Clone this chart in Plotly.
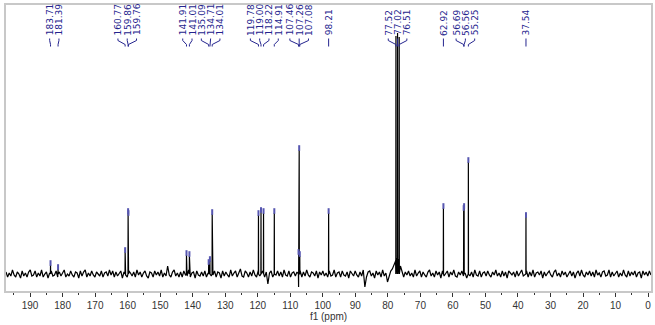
import numpy as np
import plotly.graph_objects as go

# ---- data ----
peak_ppm = [183.71, 181.39, 160.77, 159.86, 159.76, 141.91, 141.01, 135.09, 134.71,
            134.01, 119.78, 119.00, 118.22, 114.91, 107.46, 107.26, 107.08, 98.21,
            77.52, 77.02, 76.51, 62.92, 56.69, 56.56, 55.25, 37.54]
peak_height = [9, 5, 22, 61, 59, 19, 18, 10, 13,
               60, 59, 62, 61, 61, 20, 124, 18, 61,
               238, 241, 237, 66, 64, 66, 112, 57]
solvent_ppm = [77.52, 77.02, 76.51]

# baseline (noise) samples, evenly spaced from 197.4 to -0.9 ppm
noise = [
    2, -3, 1, -2, 4, -1, -3, 2, 0, -4, 3, -2, 1, -3, 2, 4, -2, -1, 3, -3,
    1, -2, 4, -3, 0, 2, -4, 1, 3, -2, -1, 3, -3, 2, -2, 1, 4, -3, 0, -2,
    3, -1, -3, 2, 1, -4, 3, -2, 2, 4, -3, 1, -2, 3, -1, -3, 2, 0, -2, 3,
    -3, 1, 2, -2, 4, -1, 3, -3, 2, -2, 1, 3, -4, 2, -1, -3, 3, 1, -2, 2,
    -3, 4, -1, 2, -3, 1, 3, -2, -4, 2, 1, -3, 3, -1, 2, -2, 4, -3, 1, -2,
    8, -1, -3, 2, 4, -2, 1, -3, 2, -3, 3, -1, -2, 4, -3, 1, 2, -4, 3, -1,
    -2, 2, -2, 3, -3, 1, 4, -2, -1, 3, -3, 2, 1, -4, 3, -2, 2, -1, -3, 4,
    -2, 1, 3, -3, 2, 5, -2, -3, 3, 1, -3, 2, -2, 4, -1, -3, 3, -2, 1, 3,
    -3, 2, -10, 1, 3, -3, 1, -1, 3, -2, 2, -3, 4, -1, -2, 3, -3, 1, 2, -2,
    2, -13, 3, -3, 2, -2, 4, -1, -3, 2, 1, -2, 3, -4, 2, -1, 3, -2, 1, -3,
    3, -2, -1, 4, -3, 1, 2, -3, 3, -1, -2, 2, -4, 3, 1, -2, 3, -1, -3, 2,
    -2, 4, -13, -3, 2, 3, -2, 1, -4, 3, -1, 2, -3, 4, -2, 1, -8, -2, 3, 5,
    9, 13, 16, 15, 8, 1, -3, 2, -1, 3, -2, 1, -3, 4, -2, 1, 3, -3, 2, -1,
    -3, 2, 4, -2, 1, -3, 3, -1, 2, -4, 3, -2, 1, 3, -3, 2, -1, 4, -2, -3,
    2, -1, 3, -2, 1, -4, 3, -2, 2, -3, 4, -1, -2, 3, -3, 1, 2, -2, 3, -1,
    -3, 2, -1, 4, -2, 1, -3, 3, -2, 2, -4, 3, 1, -1, 2, -3, 3, -2, 1, 4,
    -2, -1, 3, -3, 2, -2, 4, -3, 1, 2, -1, 3, -4, 2, -2, 1, 3, -1, -3, 2,
    4, -2, 1, -3, 3, -1, 2, -3, 1, 3, -2, 2, -4, 1, 3, -2, 4, -1, -3, 2,
    -1, 3, -2, 2, -3, 4, -1, 1, -3, 2, 3, -2, -1, 4, -3, 2, -2, 1, 3, -3,
    1, -2, 4, -1, -3, 3, -2, 2, -1, 3, -3, 1, 2, -4, 3, -1, 2, -2, 3, -1,
]

x_ticks = list(range(0, 200, 10))

# ---- layout constants ----
W, H = 655, 325
ML, MR, MT, MB = 6, 4, 5, 34
X_LEFT, X_RIGHT = 197.4, -0.9
Y_LO, Y_HI = -17, 269
LABEL_BOTTOM_PX = 37.5
CONN = (38.5, 40.5, 44.5, 46.5)
LABEL_COLOR = "#24248e"

px_per_ppm = (W - ML - MR) / (X_LEFT - X_RIGHT)
gap = 9.3 / px_per_ppm

# ---- spectrum trace: baseline samples + peak sticks ----
noise_x = np.linspace(X_LEFT, X_RIGHT, len(noise))
pts = [(float(x), float(y)) for x, y in zip(noise_x, noise)]
for p, h in zip(peak_ppm, peak_height):
    pts += [(p + 0.04, 0.0), (p, float(h)), (p - 0.04, 0.0)]
pts.sort(key=lambda t: -t[0])
spec_x = [t[0] for t in pts]
spec_y = [t[1] for t in pts]

# ---- label placement (spread overlapping labels) ----
order = sorted(range(len(peak_ppm)), key=lambda i: -peak_ppm[i])
groups = [[i] for i in order]


def positions(g):
    c = sum(peak_ppm[i] for i in g) / len(g)
    m = len(g)
    return [c + gap * ((m - 1) / 2 - k) for k in range(m)]


changed = True
while changed:
    changed = False
    for k in range(len(groups) - 1):
        a, b = positions(groups[k]), positions(groups[k + 1])
        if a[-1] - b[0] < gap:
            groups[k] = groups[k] + groups[k + 1]
            del groups[k + 1]
            changed = True
            break

label_pos = {}
for g in groups:
    for i, pos in zip(g, positions(g)):
        label_pos[i] = pos

fig = go.Figure()
fig.add_trace(go.Scatter(x=spec_x, y=spec_y, mode="lines",
                         line=dict(color="black", width=1.2), hoverinfo="skip"))

mk_x = [p for p in peak_ppm if p not in solvent_ppm]
mk_y = [h + 2 for p, h in zip(peak_ppm, peak_height) if p not in solvent_ppm]
fig.add_trace(go.Scatter(x=mk_x, y=mk_y, mode="markers",
                         marker=dict(symbol="line-ns", size=4,
                                     line=dict(color="#5656b0", width=2)),
                         hoverinfo="skip"))

cx, cy = [], []
for i, p in enumerate(peak_ppm):
    lx = label_pos[i]
    cx += [lx, lx, p, p, None]
    cy += [CONN[0], CONN[1], CONN[2], CONN[3], None]
fig.add_trace(go.Scatter(x=cx, y=cy, mode="lines", yaxis="y2",
                         line=dict(color=LABEL_COLOR, width=1), hoverinfo="skip"))

for i, p in enumerate(peak_ppm):
    fig.add_annotation(x=label_pos[i], y=LABEL_BOTTOM_PX, xref="x", yref="y2",
                       text=f"{p:.2f}", textangle=-90, showarrow=False,
                       xanchor="center", yanchor="bottom",
                       font=dict(family="DejaVu Sans", size=9, color=LABEL_COLOR))

fig.update_layout(
    width=W, height=H,
    margin=dict(l=ML, r=MR, t=MT, b=MB, autoexpand=False),
    paper_bgcolor="white", plot_bgcolor="white",
    showlegend=False,
    xaxis=dict(range=[X_LEFT, X_RIGHT], tickvals=x_ticks, ticks="outside",
               ticklen=4, tickwidth=1, tickcolor="#333", automargin=False,
               minor=dict(dtick=5, ticks="outside", ticklen=2, tickcolor="#333"),
               showline=True, linecolor="#c8c8c8", linewidth=2, mirror=True,
               showgrid=False, zeroline=False,
               tickfont=dict(family="Liberation Sans", size=10, color="#333"),
               title=dict(text="f1 (ppm)", standoff=0,
                          font=dict(family="Liberation Sans", size=10, color="#333"))),
    yaxis=dict(range=[Y_LO, Y_HI], showline=True, linecolor="#c8c8c8", linewidth=2,
               mirror=True, showticklabels=False, ticks="", showgrid=False,
               zeroline=False, automargin=False),
    yaxis2=dict(range=[H - MB, MT], overlaying="y", visible=False),
)

fig.write_html("out.html", config={"displayModeBar": False},
               post_script="document.body.style.margin='0';document.body.style.overflow='hidden';")
